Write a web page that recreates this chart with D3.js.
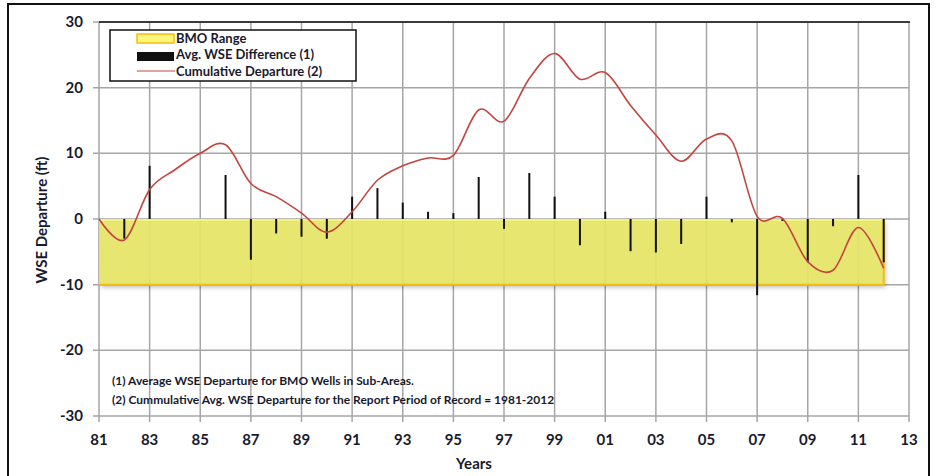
<!DOCTYPE html>
<html>
<head>
<meta charset="utf-8">
<script src="https://cdn.jsdelivr.net/npm/d3@7"></script>
<style>
  body { margin: 0; background: #fff; }
  svg { display: block; }
  text { font-family: Lato, "Open Sans", sans-serif; fill: #1a1a2e; }
</style>
</head>
<body>
<svg width="936" height="476"></svg>
<script>
// data
var years = d3.range(1981, 2013);
var wseDiff = [0, -3.0, 8.1, 0, 0, 6.7, -6.2, -2.2, -2.7, -3.0, 3.4,
  4.7, 2.5, 1.1, 0.9, 6.4, -1.5, 7.0, 3.4, -4.0, 1.1,
  -4.9, -5.1, -3.8, 3.4, -0.5, -11.6, -0.3, -6.6, -1.1, 6.7, -6.6];
var cumDep = [0, -3.2, 4.5, 7.5, 10.0, 11.3, 5.4, 3.4, 0.9, -2.0, 1.1,
  5.9, 8.1, 9.3, 9.7, 16.6, 14.9, 21.4, 25.2, 21.3, 22.3,
  17.3, 12.8, 8.8, 12.2, 11.9, 0.4, 0.1, -6.5, -7.8, -1.3, -7.5];
var bmoRange = [-10, 0];
var bmoYears = [1981, 2012];
var xTicks = d3.range(1981, 2014, 2);
var yTicks = [-30, -20, -10, 0, 10, 20, 30];
var legendLabels = ["BMO Range", "Avg. WSE Difference (1)", "Cumulative Departure (2)"];
var notes = ["(1) Average WSE Departure for BMO Wells in Sub-Areas.",
  "(2) Cummulative Avg. WSE Departure for the Report Period of Record = 1981-2012"];

var svg = d3.select("svg");

var x = d3.scaleLinear().domain([1981, 2013]).range([99, 909]);
var y = d3.scaleLinear().domain([-30, 30]).range([416, 22]);

var defs = svg.append("defs");
var f = defs.append("filter").attr("id", "shadow").attr("x", "-5%").attr("y", "-5%").attr("width", "115%").attr("height", "130%");
f.append("feDropShadow").attr("dx", 2).attr("dy", 3).attr("stdDeviation", 2).attr("flood-color", "#000").attr("flood-opacity", 0.25);

// outer frame
svg.append("path")
  .attr("d", "M8,480 V4 H929 V480")
  .attr("fill", "none").attr("stroke", "#111").attr("stroke-width", 2);

// grid
var grid = svg.append("g").attr("stroke", "#a6a6a6").attr("stroke-width", 1.5);
grid.selectAll(".vg").data(xTicks).enter().append("line")
  .attr("x1", function(d) { return x(d); }).attr("x2", function(d) { return x(d); })
  .attr("y1", y(30)).attr("y2", y(-30) + 6);
grid.selectAll(".hg").data(yTicks).enter().append("line")
  .attr("x1", x(1981) - 6).attr("x2", x(2013))
  .attr("y1", function(d) { return y(d); }).attr("y2", function(d) { return y(d); });

// top border
svg.append("line").attr("x1", x(1981)).attr("x2", x(2013) + 1)
  .attr("y1", y(30)).attr("y2", y(30)).attr("stroke", "#111").attr("stroke-width", 1.5);

// BMO range
var bmo = svg.append("g");
bmo.append("rect")
  .attr("x", x(bmoYears[0])).attr("y", y(bmoRange[1]))
  .attr("width", x(bmoYears[1]) - x(bmoYears[0]))
  .attr("height", y(bmoRange[0]) - y(bmoRange[1]))
  .attr("fill", "#e4e466").attr("opacity", 0.92)
  .attr("filter", "url(#shadow)");
bmo.append("line")
  .attr("x1", x(bmoYears[0])).attr("x2", x(bmoYears[1]))
  .attr("y1", y(bmoRange[1]) + 1).attr("y2", y(bmoRange[1]) + 1)
  .attr("stroke", "#f4f27a").attr("stroke-width", 2);
bmo.append("path")
  .attr("d", "M" + x(bmoYears[0]) + "," + y(bmoRange[0]) + " H" + x(bmoYears[1]) + " V" + (y(bmoRange[1]) + 0))
  .attr("fill", "none").attr("stroke", "#f5bd12").attr("stroke-width", 2);

// bars
svg.append("g").selectAll("rect").data(years).enter().append("rect")
  .attr("x", function(d) { return x(d) - 1; })
  .attr("width", 2)
  .attr("y", function(d, i) { return y(Math.max(0, wseDiff[i])); })
  .attr("height", function(d, i) { return Math.abs(y(wseDiff[i]) - y(0)); })
  .attr("fill", "#111");

// cumulative line
var line = d3.line()
  .x(function(d) { return x(d); })
  .y(function(d, i) { return y(cumDep[i]); })
  .curve(d3.curveCardinal.tension(0));
svg.append("path").datum(years)
  .attr("d", line)
  .attr("fill", "none").attr("stroke", "#c4443f").attr("stroke-width", 1.6);

// axis labels
svg.append("g").selectAll("text").data(yTicks).enter().append("text")
  .attr("x", 83).attr("y", function(d) { return y(d) + 5; })
  .attr("text-anchor", "end").attr("font-size", 15).attr("font-weight", "bold")
  .text(function(d) { return d; });
svg.append("g").selectAll("text").data(xTicks).enter().append("text")
  .attr("x", function(d) { return x(d); }).attr("y", 445)
  .attr("text-anchor", "middle").attr("font-size", 15).attr("font-weight", "bold")
  .text(function(d) { return d3.format("02d")(d % 100); });
svg.append("text").attr("x", 474).attr("y", 469).attr("text-anchor", "middle")
  .attr("font-size", 15).attr("font-weight", "bold").text("Years");
svg.append("text").attr("transform", "translate(47,220) rotate(-90)")
  .attr("text-anchor", "middle").attr("font-size", 15).attr("font-weight", "bold")
  .text("WSE Departure (ft)");

// legend
var lg = svg.append("g");
lg.append("rect").attr("x", 110).attr("y", 30).attr("width", 246).attr("height", 51)
  .attr("fill", "#fff").attr("stroke", "#111").attr("stroke-width", 1.5);
lg.append("rect").attr("x", 137).attr("y", 34).attr("width", 37).attr("height", 9)
  .attr("fill", "#fbf77a").attr("stroke", "#f5bd12").attr("stroke-width", 1.5);
lg.append("rect").attr("x", 137).attr("y", 52).attr("width", 37).attr("height", 9).attr("fill", "#111");
lg.append("line").attr("x1", 137).attr("x2", 175).attr("y1", 71).attr("y2", 71)
  .attr("stroke", "#c4443f").attr("stroke-width", 1.2);
lg.selectAll("text").data(legendLabels).enter().append("text")
  .attr("x", 176).attr("y", function(d, i) { return 42.5 + i * 16.5; })
  .attr("font-size", 13).attr("font-weight", "bold")
  .text(function(d) { return d; });

// notes
svg.append("g").selectAll("text").data(notes).enter().append("text")
  .attr("x", 112).attr("y", function(d, i) { return 385 + i * 18.5; })
  .attr("font-size", 12).attr("font-weight", "bold")
  .text(function(d) { return d; });
</script>
</body>
</html>
